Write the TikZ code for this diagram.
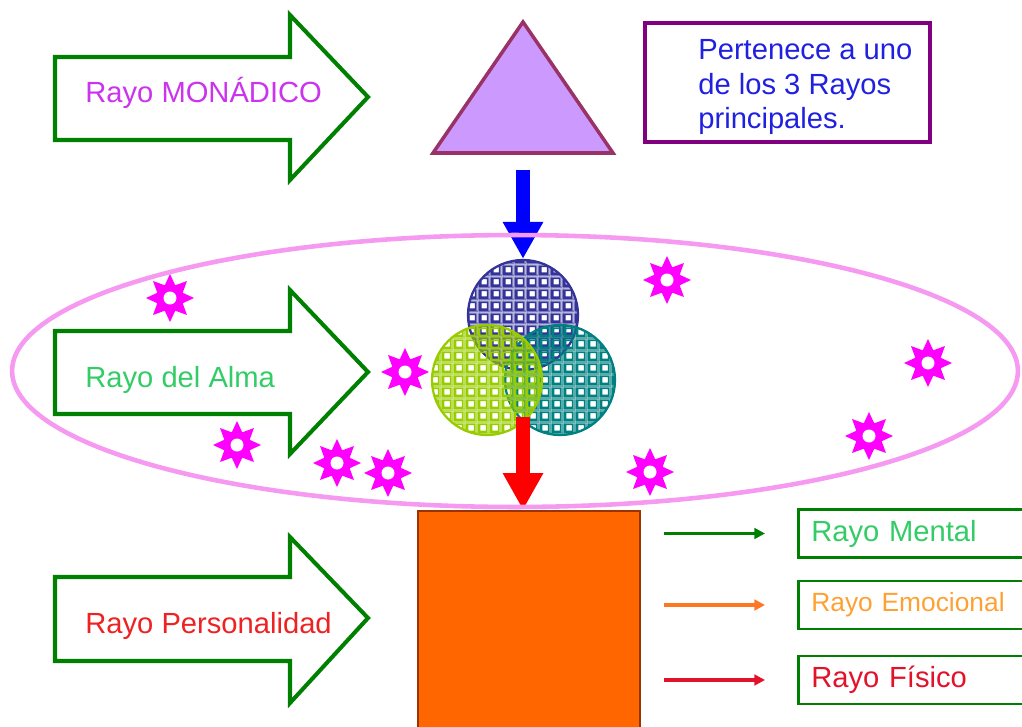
\documentclass[tikz,border=0pt]{standalone}
\usepackage{fontspec}
\setmainfont{Liberation Sans}
\usetikzlibrary{arrows.meta,shapes.geometric,patterns}

\definecolor{verdeosc}{HTML}{008000}
\definecolor{monadcol}{HTML}{CC33EE}
\definecolor{almacol}{HTML}{33CC66}
\definecolor{perscol}{HTML}{EE2222}
\definecolor{emocol}{HTML}{FFA033}
\definecolor{fisicocol}{HTML}{E3122B}
\definecolor{trifill}{HTML}{CC99FF}
\definecolor{triborde}{HTML}{993366}
\definecolor{azulfl}{HTML}{0000FF}
\definecolor{rojofl}{HTML}{FF0000}
\definecolor{purpcol}{HTML}{800080}
\definecolor{notacol}{HTML}{2020E0}
\definecolor{elipcol}{HTML}{F59AF0}
\definecolor{magentaest}{HTML}{FF00FF}
\definecolor{azulesf}{HTML}{333399}
\definecolor{verdeesf}{HTML}{99CC00}
\definecolor{tealesf}{HTML}{008080}
\definecolor{naranjafill}{HTML}{FF6600}
\definecolor{naranjaborde}{HTML}{993300}
\definecolor{naranjafl}{HTML}{FF7722}

% rejilla de las esferas
\pgfdeclarepatternformonly{rejilla}{\pgfqpoint{0pt}{0pt}}{\pgfqpoint{7pt}{7pt}}{\pgfqpoint{7pt}{7pt}}{%
  \pgfseteorule
  \pgfpathrectangle{\pgfqpoint{0pt}{0pt}}{\pgfqpoint{7pt}{7pt}}%
  \pgfpathrectangle{\pgfqpoint{1.5pt}{1.5pt}}{\pgfqpoint{3.2pt}{3.2pt}}%
  \pgfpathrectangle{\pgfqpoint{0pt}{5.8pt}}{\pgfqpoint{7pt}{0.5pt}}%
  \pgfpathrectangle{\pgfqpoint{5.8pt}{0pt}}{\pgfqpoint{0.5pt}{5.8pt}}%
  \pgfusepath{fill}}

\begin{document}
\begin{tikzpicture}
      [x=0.02cm, y=-0.02cm
    % flechas grandes y sus textos
      ,bloque/.style={draw=verdeosc,fill=white,line width=2.3pt}
      ,rotulo/.style={font=\fontsize{16.6}{19.4}\selectfont,anchor=base west,inner sep=0pt}
      ,esfera/.style={circle,minimum size=2.2cm,inner sep=0pt,line width=1.3pt,pattern=rejilla}
      ,estrella/.style={star,star points=8,star point ratio=1.75,minimum size=0.96cm,inner sep=0pt,fill=magentaest}
      ,cajaraya/.style={draw=verdeosc,line width=1.5pt,anchor=west,minimum width=4.8cm,minimum height=0.96cm,
                        text width=4.28cm,inner xsep=0.26cm,align=left,font=\fontsize{16.6}{19.4}\selectfont}
      ,flechita/.style={line width=1.9pt,-{Triangle[length=6pt,width=6pt]},shorten <=0.46cm,shorten >=0.64cm}
      ,flechagorda/.style={line width=8.5pt,-{Triangle[length=0.74cm,width=0.76cm]}}
      ]
        \useasboundingbox (0,0) rectangle (1022,727);
        \clip (0,0) rectangle (1022,727);

        \coordinate (A) at (55,57);
        \draw[bloque] (A) -- ++(235,0) -- ++(0,-42) -- ++(78,82) -- ++(-78,83) -- ++(0,-40) -- ++(-235,0) -- cycle;
        \coordinate (A) at (55,331);
        \draw[bloque] (A) -- ++(235,0) -- ++(0,-41) -- ++(78,82) -- ++(-78,82) -- ++(0,-40) -- ++(-235,0) -- cycle;
        \coordinate (A) at (55,577);
        \draw[bloque] (A) -- ++(235,0) -- ++(0,-40) -- ++(78,81) -- ++(-78,85) -- ++(0,-42) -- ++(-235,0) -- cycle;
        \node[rotulo,text=monadcol] (monadico) at (85,102) {Rayo MONÁDICO};
        \node[rotulo,text=almacol] (alma) at (85,387) {Rayo del Alma};
        \node[rotulo,text=perscol] (personalidad) at (85,633) {Rayo Personalidad};

    % triangulo y nota
        \coordinate (t1) at (523,22);
        \coordinate (t2) at (433,153);
        \coordinate (t3) at (613,153);
        \coordinate (tribase) at (523,153);
        \filldraw[fill=trifill,draw=triborde,line width=2pt] (t1) -- (t2) -- (t3) -- cycle;
        \node[draw=purpcol,line width=2.3pt,minimum width=5.7cm,minimum height=2.38cm,inner sep=0pt] (nota) at (787.5,82.5) {};
        \node[font=\fontsize{16.6}{19.8}\selectfont,text=notacol,align=left,anchor=north west,inner sep=0pt]
            (notatexto) at (698,39) {Pertenece a uno\\de los 3 Rayos\\principales.};

    % esferas del alma
        \node[esfera,draw=azulesf,pattern color=azulesf] (azul) at (523,315) {};
        \node[esfera,draw=tealesf,pattern color=tealesf] (teal) at (560,380) {};
        \node[esfera,draw=verdeesf,pattern color=verdeesf] (verde) at (487,380) {};
        \draw[flechagorda,azulfl,shorten <=0.34cm] (tribase) -- (azul.north);

        \node[draw=naranjaborde,fill=naranjafill,line width=1.2pt,minimum width=4.44cm,minimum height=5cm,
              anchor=north west,inner sep=0pt] (cuerpo) at (417,510) {};
        \coordinate (rojoini) at (523,417);
        \draw[flechagorda,rojofl] (rojoini) -- (rojoini |- cuerpo.north);

        \draw[draw=elipcol,line width=2.6pt] (515,371) ellipse [x radius=10.06cm,y radius=2.72cm];
        \foreach \x/\y [count=\i] in {170/298,405/372,237/445,337/463,388/473,667/280,928/363,869/436,650/472}
        {
          \node[estrella] (e\i) at (\x,\y) {};
          \fill[white] (e\i) circle (0.13cm);
        }

    % rayos de la personalidad
        \node[cajaraya,text=almacol] (mental) at (797,533.5) {Rayo Mental};
        \node[cajaraya,text=emocol,font=\fontsize{15}{18}\selectfont] (emocional) at (797,605) {Rayo Emocional};
        \node[cajaraya,text=fisicocol] (fisico) at (797,680) {Rayo Físico};
        \draw[flechita,verdeosc] (cuerpo.east |- mental.west) -- (mental.west);
        \draw[flechita,naranjafl] (cuerpo.east |- emocional.west) -- (emocional.west);
        \draw[flechita,fisicocol] (cuerpo.east |- fisico.west) -- (fisico.west);
       \end{tikzpicture}
\end{document}
